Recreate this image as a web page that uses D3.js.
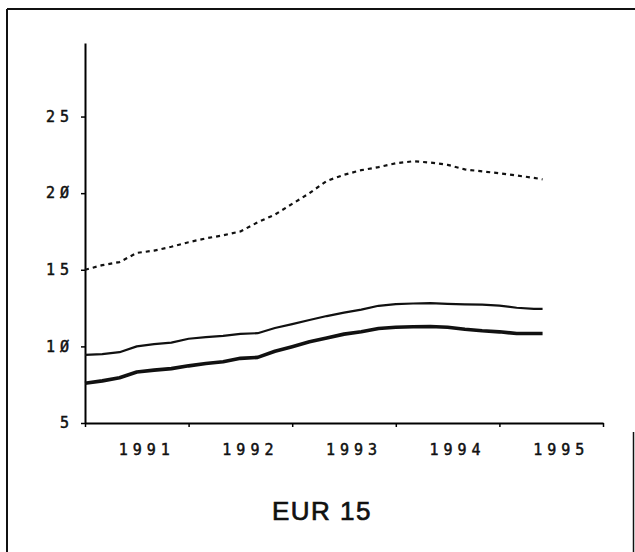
<!DOCTYPE html>
<html>
<head>
<meta charset="utf-8">
<script src="https://cdn.jsdelivr.net/npm/d3@7"></script>
<style>
  body { margin: 0; background: #fff; }
  svg { display: block; }
  .tick text, .year { font-family: "DejaVu Sans Mono", monospace; font-size: 15px; letter-spacing: 5px;
    fill: #111; stroke: #111; stroke-width: 0.5px; }
</style>
</head>
<body>
<svg id="chart"></svg>
<script>
// months since Jan 1991 at which values were read
const months = [0, 2, 4, 6, 8, 10, 12, 14, 16, 18, 20, 22, 24, 26, 28, 30, 32, 34, 36, 38, 40, 42, 44, 46, 48, 50, 52, 53];

// dashed series (top)
const seriesDashed = [15.0, 15.3, 15.5, 16.1, 16.25, 16.5, 16.8, 17.05, 17.25, 17.5, 18.1, 18.6, 19.3, 20.0,
  20.8, 21.2, 21.5, 21.7, 21.95, 22.08, 22.0, 21.85, 21.55, 21.42, 21.3, 21.15, 21.0, 20.9];

// thin solid series (middle)
const seriesThin = [9.44, 9.5, 9.62, 10.0, 10.15, 10.25, 10.5, 10.6, 10.69, 10.82, 10.86, 11.2, 11.45, 11.72,
  11.98, 12.2, 12.4, 12.65, 12.76, 12.8, 12.82, 12.77, 12.74, 12.72, 12.66, 12.52, 12.45, 12.45];

// thick solid series (bottom)
const seriesThick = [7.6, 7.75, 7.95, 8.33, 8.45, 8.55, 8.73, 8.88, 9.0, 9.22, 9.28, 9.68, 9.98, 10.3,
  10.55, 10.8, 10.95, 11.17, 11.25, 11.28, 11.3, 11.25, 11.12, 11.02, 10.95, 10.84, 10.84, 10.84];

const yTicks = [5, 10, 15, 20, 25];
const yearTicks = [1991, 1992, 1993, 1994, 1995, 1996];
const yearLabels = ["1991", "1992", "1993", "1994", "1995"];
const title = "EUR 15";

const width = 635, height = 552;
const svg = d3.select("#chart").attr("width", width).attr("height", height);

const x = d3.scaleLinear([1991, 1996], [85, 603]);
const y = d3.scaleLinear([5, 29.8], [423, 43]);

// frame
const frame = svg.append("g").attr("stroke", "#111").attr("stroke-width", 2).attr("fill", "none");
frame.append("line").attr("x1", 7).attr("y1", 9).attr("x2", width).attr("y2", 9);
frame.append("line").attr("x1", 7).attr("y1", 9).attr("x2", 7).attr("y2", height);
frame.append("line").attr("x1", 633.5).attr("y1", 432).attr("x2", 633.5).attr("y2", height).attr("stroke-width", 1.5);

// y axis
const yAxis = svg.append("g")
    .attr("transform", `translate(${x(1991)},0)`)
    .call(d3.axisLeft(y).tickValues(yTicks).tickSize(4).tickSizeOuter(0).tickPadding(12));
yAxis.select(".domain").attr("stroke-width", 2);
yAxis.selectAll(".tick line").attr("stroke-width", 1.5);
yAxis.selectAll(".tick text").attr("dx", "5px")
    .text(d => String(d).replace(/0/g, "\u00d8"));

// x axis
const xAxis = svg.append("g")
    .attr("transform", `translate(0,${y(5)})`)
    .call(d3.axisBottom(x).tickValues(yearTicks).tickSize(4).tickSizeOuter(0).tickFormat(""));
xAxis.select(".domain").attr("stroke-width", 2);
xAxis.selectAll(".tick line").attr("stroke-width", 1.5);

svg.append("g")
    .selectAll("text")
    .data(yearLabels)
    .join("text")
        .attr("class", "year")
        .attr("x", d => x(+d + 0.5) + 10)
        .attr("y", 455)
        .attr("text-anchor", "middle")
        .text(d => d);

// lines
const line = d3.line()
    .x(d => x(1991 + d[0] / 12))
    .y(d => y(d[1]));

const series = [
    { values: seriesDashed, width: 2.2, dash: "4,4" },
    { values: seriesThin, width: 2.2, dash: null },
    { values: seriesThick, width: 3.6, dash: null }
];

svg.append("g")
    .selectAll("path")
    .data(series)
    .join("path")
        .attr("fill", "none")
        .attr("stroke", "#111")
        .attr("stroke-width", d => d.width)
        .attr("stroke-dasharray", d => d.dash)
        .attr("stroke-linejoin", "round")
        .attr("d", d => line(months.map((m, i) => [m, d.values[i]])));

// title
svg.append("text")
    .attr("x", 322)
    .attr("y", 520)
    .attr("text-anchor", "middle")
    .style("font-family", "'Liberation Sans', Arial, sans-serif")
    .style("font-size", "26px")
    .style("letter-spacing", "1.5px")
    .attr("fill", "#111")
    .attr("stroke", "#111")
    .attr("stroke-width", 0.7)
    .text(title);
</script>
</body>
</html>
